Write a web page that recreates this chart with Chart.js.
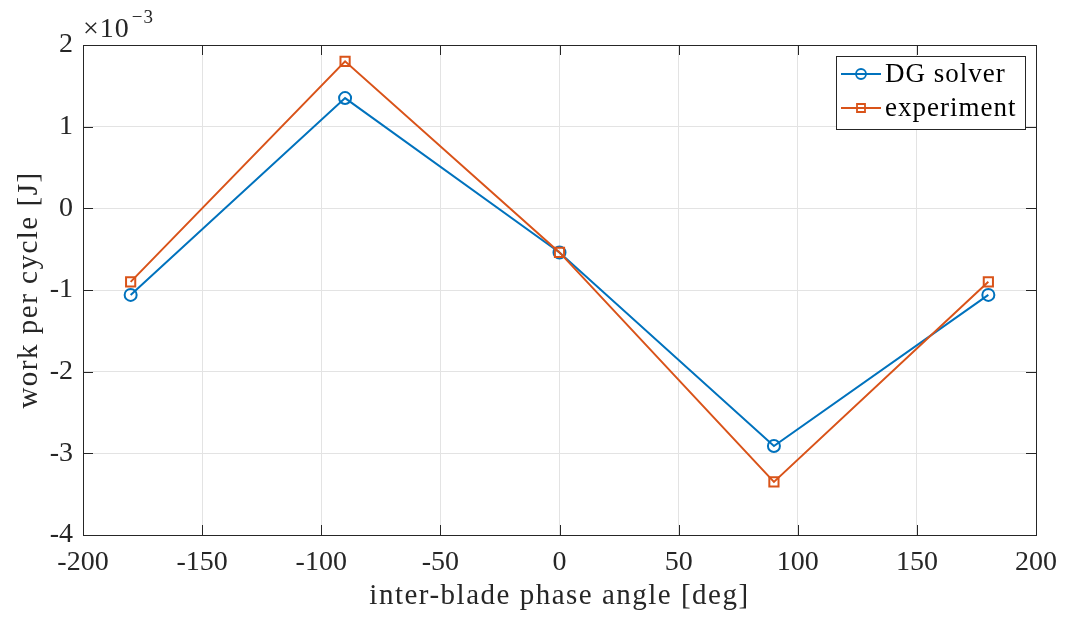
<!DOCTYPE html>
<html>
<head>
<meta charset="utf-8">
<script src="https://cdn.jsdelivr.net/npm/chart.js@4/dist/chart.umd.min.js"></script>
<style>
  html, body { margin: 0; padding: 0; background: #fff; }
  #wrap { width: 1065px; height: 618px; }
</style>
</head>
<body>
<div id="wrap"><canvas id="myChart" width="1065" height="618"></canvas></div>
<script>
// phase angles and work per cycle (in units of 1e-3 J)
const phaseAngles = [-180, -90, 0, 90, 180];
const dgSolver = [-1.06, 1.35, -0.54, -2.91, -1.06];
const experiment = [-0.90, 1.80, -0.54, -3.35, -0.90];
const xTicks = [-200, -150, -100, -50, 0, 50, 100, 150, 200];
const yTicks = [-4, -3, -2, -1, 0, 1, 2];
const exponent = -3;
const xLabel = 'inter-blade phase angle [deg]';
const yLabel = 'work per cycle [J]';

const serif = '"Liberation Serif", "DejaVu Serif", serif';
const blue = '#0072BD';
const orange = '#D95319';
const ink = '#262626';

// MATLAB style box: inward ticks on all four sides, axis labels, exponent, legend inside
const boxPlugin = {
  id: 'boxPlugin',
  afterDatasetsDraw(chart) {
    const { ctx, chartArea: a, scales: { x, y } } = chart;
    ctx.save();
    ctx.strokeStyle = ink;
    ctx.lineWidth = 1;
    ctx.beginPath();
    xTicks.forEach(v => {
      const px = Math.round(x.getPixelForValue(v)) + 0.5;
      ctx.moveTo(px, a.bottom); ctx.lineTo(px, a.bottom - 10);
      ctx.moveTo(px, a.top); ctx.lineTo(px, a.top + 10);
    });
    yTicks.forEach(v => {
      const py = Math.round(y.getPixelForValue(v)) + 0.5;
      ctx.moveTo(a.left, py); ctx.lineTo(a.left + 10, py);
      ctx.moveTo(a.right, py); ctx.lineTo(a.right - 10, py);
    });
    ctx.stroke();
    ctx.strokeRect(Math.round(a.left) + 0.5, Math.round(a.top) + 0.5,
      Math.round(a.right - a.left), Math.round(a.bottom - a.top));

    // axis labels
    ctx.fillStyle = ink;
    ctx.letterSpacing = '1.5px';
    ctx.font = '29px ' + serif;
    ctx.textAlign = 'center';
    ctx.textBaseline = 'alphabetic';
    ctx.fillText(xLabel, (a.left + a.right) / 2, 604);
    ctx.save();
    ctx.translate(37, (a.top + a.bottom) / 2);
    ctx.rotate(-Math.PI / 2);
    ctx.fillText(yLabel, 0, 0);
    ctx.restore();

    // exponent
    ctx.letterSpacing = '1px';
    ctx.textAlign = 'left';
    ctx.font = '28px ' + serif;
    ctx.fillText('\u00d710', a.left, a.top - 8);
    const w = ctx.measureText('\u00d710').width;
    ctx.font = '19px ' + serif;
    ctx.fillText('\u2212' + Math.abs(exponent), a.left + w + 2, a.top - 22);

    // legend
    const lx = 836, ly = 56, lw = 189, lh = 73;
    ctx.fillStyle = '#fff';
    ctx.fillRect(lx, ly, lw, lh);
    ctx.strokeStyle = ink;
    ctx.strokeRect(lx + 0.5, ly + 0.5, lw, lh);
    ctx.font = '27px ' + serif;
    ctx.letterSpacing = '1px';
    ctx.textBaseline = 'middle';
    chart.data.datasets.forEach((ds, i) => {
      const cy = ly + 18 + i * 34;
      ctx.strokeStyle = ds.borderColor;
      ctx.lineWidth = 2;
      ctx.beginPath();
      ctx.moveTo(lx + 5, cy); ctx.lineTo(lx + 45, cy);
      ctx.stroke();
      ctx.lineWidth = 1.8;
      ctx.beginPath();
      if (ds.pointStyle === 'circle') {
        ctx.arc(lx + 25, cy, 5, 0, Math.PI * 2);
      } else {
        ctx.rect(lx + 21, cy - 4, 8, 8);
      }
      ctx.stroke();
      ctx.fillStyle = '#000';
      ctx.fillText(ds.label, lx + 49, cy + 1);
    });
    ctx.restore();
  }
};

const ctx = document.getElementById('myChart').getContext('2d');
const myChart = new Chart(ctx, {
  type: 'line',
  data: {
    datasets: [
      {
        label: 'DG solver',
        data: phaseAngles.map((a, i) => ({ x: a, y: dgSolver[i] })),
        borderColor: blue,
        backgroundColor: 'rgba(0,0,0,0)',
        borderWidth: 2,
        pointStyle: 'circle',
        pointRadius: 6,
        pointBorderWidth: 2,
        pointBackgroundColor: 'rgba(0,0,0,0)',
        tension: 0,
        order: 1
      },
      {
        label: 'experiment',
        data: phaseAngles.map((a, i) => ({ x: a, y: experiment[i] })),
        borderColor: orange,
        backgroundColor: 'rgba(0,0,0,0)',
        borderWidth: 2,
        pointStyle: 'rect',
        pointRadius: 6.5,
        pointBorderWidth: 2,
        pointBackgroundColor: 'rgba(0,0,0,0)',
        tension: 0,
        order: 0
      }
    ]
  },
  options: {
    responsive: false,
    animation: false,
    layout: { padding: { left: 0, right: 29, top: 45, bottom: 0 } },
    plugins: { legend: { display: false }, tooltip: { enabled: false } },
    scales: {
      x: {
        type: 'linear',
        min: -200, max: 200,
        afterBuildTicks: s => { s.ticks = xTicks.map(v => ({ value: v })); },
        afterFit: s => { s.height = 83; s.paddingLeft = 0; s.paddingRight = 0; },
        grid: { color: '#e3e3e3', drawTicks: false },
        border: { display: false },
        ticks: {
          padding: 11,
          color: ink,
          font: { family: serif, size: 28 },
          callback: v => String(v)
        }
      },
      y: {
        type: 'linear',
        min: -4, max: 2,
        afterBuildTicks: s => { s.ticks = yTicks.map(v => ({ value: v })); },
        afterFit: s => { s.width = 83; s.paddingTop = 0; s.paddingBottom = 0; },
        grid: { color: '#e3e3e3', drawTicks: false },
        border: { display: false },
        ticks: {
          padding: 10,
          color: ink,
          font: { family: serif, size: 28 },
          callback: v => String(v)
        }
      }
    }
  },
  plugins: [boxPlugin]
});
</script>
</body>
</html>
